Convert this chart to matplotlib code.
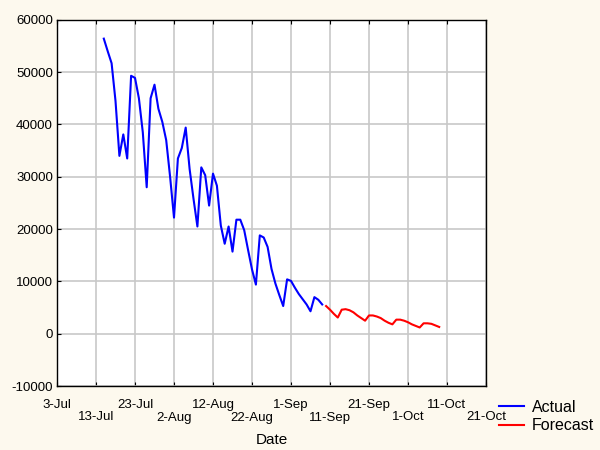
import datetime as dt
import matplotlib
matplotlib.use("Agg")
import matplotlib.pyplot as plt
from matplotlib.ticker import MultipleLocator

# daily values
actual_start = dt.date(2020, 7, 15)
actual = [56400, 54000, 51700, 44500, 34000, 38100, 33500, 49300, 48900, 45000,
          38500, 28000, 45000, 47600, 43000, 40500, 37000, 30000, 22200, 33500,
          35500, 39400, 31500, 25800, 20500, 31800, 30300, 24500, 30600, 28300,
          20700, 17200, 20500, 15700, 21800, 21800, 19800, 16000, 12300, 9400,
          18800, 18400, 16600, 12400, 9600, 7400, 5300, 10400, 10100, 8800,
          7600, 6600, 5600, 4300, 7000, 6500, 5600]

forecast_start = dt.date(2020, 9, 10)
forecast = [5300, 4600, 3800, 3100, 4600, 4700, 4500, 4100, 3500, 3000,
            2500, 3500, 3500, 3300, 3000, 2500, 2100, 1800, 2700, 2700,
            2500, 2200, 1800, 1500, 1200, 2000, 2000, 1900, 1600, 1300]

actual_dates = [actual_start + dt.timedelta(days=i) for i in range(len(actual))]
forecast_dates = [forecast_start + dt.timedelta(days=i) for i in range(len(forecast))]

x_first = dt.date(2020, 7, 3)
x_last = dt.date(2020, 10, 21)
tick_dates = [x_first + dt.timedelta(days=10 * i) for i in range(12)]

plt.rcParams['font.family'] = ['Liberation Sans', 'DejaVu Sans']
plt.rcParams['axes.unicode_minus'] = False

bg = '#fdf9ee'
fig = plt.figure(figsize=(6, 4.5), dpi=100, facecolor=bg)
ax = fig.add_axes([0.095, 0.142, 0.715, 0.814])
ax.set_facecolor('white')

ax.plot(actual_dates, actual, color='#0000ff', lw=1.5, label='Actual')
ax.plot(forecast_dates, forecast, color='#ff0000', lw=1.5, label='Forecast')

ax.set_xlim(x_first, x_last)
ax.set_ylim(-10000, 60000)
ax.yaxis.set_major_locator(MultipleLocator(10000))

ax.set_xticks(tick_dates)
labels = []
for i, d in enumerate(tick_dates):
    s = f"{d.day}-{d.strftime('%b')}"
    labels.append(s if i % 2 == 0 else '\n' + s)
ax.set_xticklabels(labels, linespacing=1.1)

ax.grid(True, color='#c8c8c8', lw=1.2)
ax.set_axisbelow(True)
for sp in ax.spines.values():
    sp.set_linewidth(1.0)
ax.tick_params(axis='both', which='major', labelsize=9.5, length=3, direction='in',
               top=True, right=False)
ax.tick_params(axis='y', pad=3)
ax.tick_params(axis='x', pad=9)

ax.set_xlabel('Date', fontsize=11, labelpad=7)

fig.legend(loc='lower right', bbox_to_anchor=(1.0, 0.025), frameon=False,
           fontsize=11.5, handlelength=1.6, labelspacing=0.2, borderpad=0.05,
           borderaxespad=0.3, handletextpad=0.5)

fig.savefig('out.png', dpi=100, facecolor=bg)
